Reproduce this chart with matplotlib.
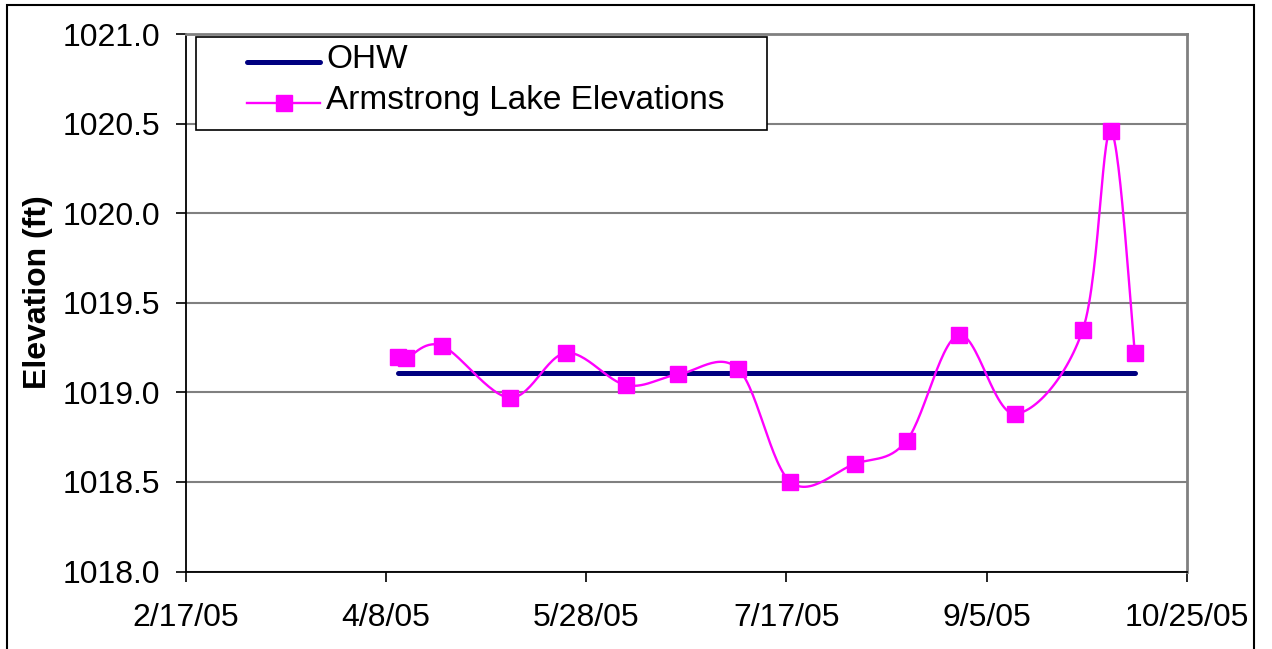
import datetime as dt
import numpy as np
import matplotlib
matplotlib.use("Agg")
import matplotlib.pyplot as plt
import matplotlib.dates as mdates
from matplotlib.patches import Rectangle
from matplotlib.lines import Line2D

# measured lake elevations
dates = ["2005-04-11", "2005-04-13", "2005-04-22", "2005-05-09", "2005-05-23",
         "2005-06-07", "2005-06-20", "2005-07-05", "2005-07-18", "2005-08-03",
         "2005-08-16", "2005-08-29", "2005-09-12", "2005-09-29", "2005-10-06",
         "2005-10-12"]
elev = [1019.20, 1019.19, 1019.26, 1018.97, 1019.22,
        1019.04, 1019.10, 1019.13, 1018.50, 1018.60,
        1018.73, 1019.32, 1018.88, 1019.35, 1020.46,
        1019.22]

# ordinary high water level
ohw_dates = ["2005-04-11", "2005-10-12"]
ohw = [1019.11, 1019.11]

xtick_labels = ["2/17/05", "4/8/05", "5/28/05", "7/17/05", "9/5/05", "10/25/05"]
yticks = [1018.0, 1018.5, 1019.0, 1019.5, 1020.0, 1020.5, 1021.0]

NAVY = "#000080"
MAGENTA = "#FF00FF"
FS = 23


def to_num(strs):
    return mdates.date2num([dt.datetime.strptime(s, "%Y-%m-%d") for s in strs])


def tick_num(lbl):
    return mdates.date2num(dt.datetime.strptime(lbl, "%m/%d/%y"))


def excel_smooth(ax, xs, ys, n=30):
    # bezier smoothing done in pixel space like a spreadsheet "smoothed line"
    pts = ax.transData.transform(np.column_stack([xs, ys]))
    out = []
    for i in range(len(pts) - 1):
        p0 = pts[i - 1] if i > 0 else pts[i]
        p1 = pts[i]
        p2 = pts[i + 1]
        p3 = pts[i + 2] if i + 2 < len(pts) else pts[i + 1]
        c1 = p1 + (p2 - p0) / 6.0
        c2 = p2 - (p3 - p1) / 6.0
        t = np.linspace(0, 1, n)[:, None]
        seg = ((1 - t) ** 3) * p1 + 3 * ((1 - t) ** 2) * t * c1 + 3 * (1 - t) * t ** 2 * c2 + t ** 3 * p2
        out.append(seg if i == 0 else seg[1:])
    out = np.vstack(out)
    back = ax.transData.inverted().transform(out)
    return back[:, 0], back[:, 1]


plt.rcParams['font.family'] = ['Liberation Sans', 'DejaVu Sans']

W, H = 1272, 649
fig = plt.figure(figsize=(W / 100, H / 100), dpi=100)
left, right, top, bottom = 185.5, 1187, 34, 571.5
ax = fig.add_axes([left / W, 1 - bottom / H, (right - left) / W, (bottom - top) / H])

xt = [tick_num(s) for s in xtick_labels]
ax.set_xlim(xt[0], xt[-1])
ax.set_ylim(1018.0, 1021.0)

x = to_num(dates)
sx, sy = excel_smooth(ax, x, elev)

ax.plot(to_num(ohw_dates), ohw, color=NAVY, lw=3.6, solid_capstyle="round", zorder=3)
ax.plot(sx, sy, color=MAGENTA, lw=1.7, zorder=4)
ax.plot(x, elev, ls="none", marker="s", ms=11, mfc=MAGENTA, mec=MAGENTA, zorder=5)

ax.set_xticks(xt)
ax.set_xticklabels(xtick_labels)
ax.set_yticks(yticks)
ax.set_yticklabels(["%.1f" % v for v in yticks])
ax.tick_params(labelsize=FS, length=7, width=1.2, color="#000000")
ax.tick_params(axis="y", pad=11)
ax.tick_params(axis="x", pad=16)

ax.yaxis.grid(True, color="#808080", lw=1.5)
ax.set_axisbelow(True)
for s in ["top", "right"]:
    ax.spines[s].set_color("#808080")
    ax.spines[s].set_linewidth(2)
for s in ["left", "bottom"]:
    ax.spines[s].set_color("#000000")
    ax.spines[s].set_linewidth(1.3)

fig.text(38 / W, 1 - 292 / H, "Elevation (ft)", rotation=90, fontsize=FS,
         fontweight="bold", ha="center", va="center")

# legend box drawn in figure pixels
def fx(px):
    return px / W


def fy(py):
    return 1 - py / H


fig.patches.append(Rectangle((fx(196), fy(130)), fx(767) - fx(196), fy(37) - fy(130),
                             transform=fig.transFigure, facecolor="white",
                             edgecolor="#000000", lw=1.2, zorder=10))
fig.lines.append(Line2D([fx(247), fx(320)], [fy(62), fy(62)], transform=fig.transFigure,
                        color=NAVY, lw=3.6, solid_capstyle="round", zorder=11))
fig.lines.append(Line2D([fx(247), fx(320)], [fy(103), fy(103)], transform=fig.transFigure,
                        color=MAGENTA, lw=1.7, zorder=11))
fig.lines.append(Line2D([fx(283.5)], [fy(103)], transform=fig.transFigure, ls="none",
                        marker="s", ms=11, mfc=MAGENTA, mec=MAGENTA, zorder=12))
fig.text(fx(326), fy(60), "OHW", fontsize=24, ha="left", va="center", zorder=12)
fig.text(fx(326), fy(101), "Armstrong Lake Elevations", fontsize=24, ha="left",
         va="center", zorder=12)

# outer chart border
fig.patches.append(Rectangle((fx(7), -0.01), fx(1254) - fx(7), fy(5) + 0.01,
                             transform=fig.transFigure, fill=False, edgecolor="#000000",
                             lw=1.5))

fig.savefig("out.png", dpi=100)
